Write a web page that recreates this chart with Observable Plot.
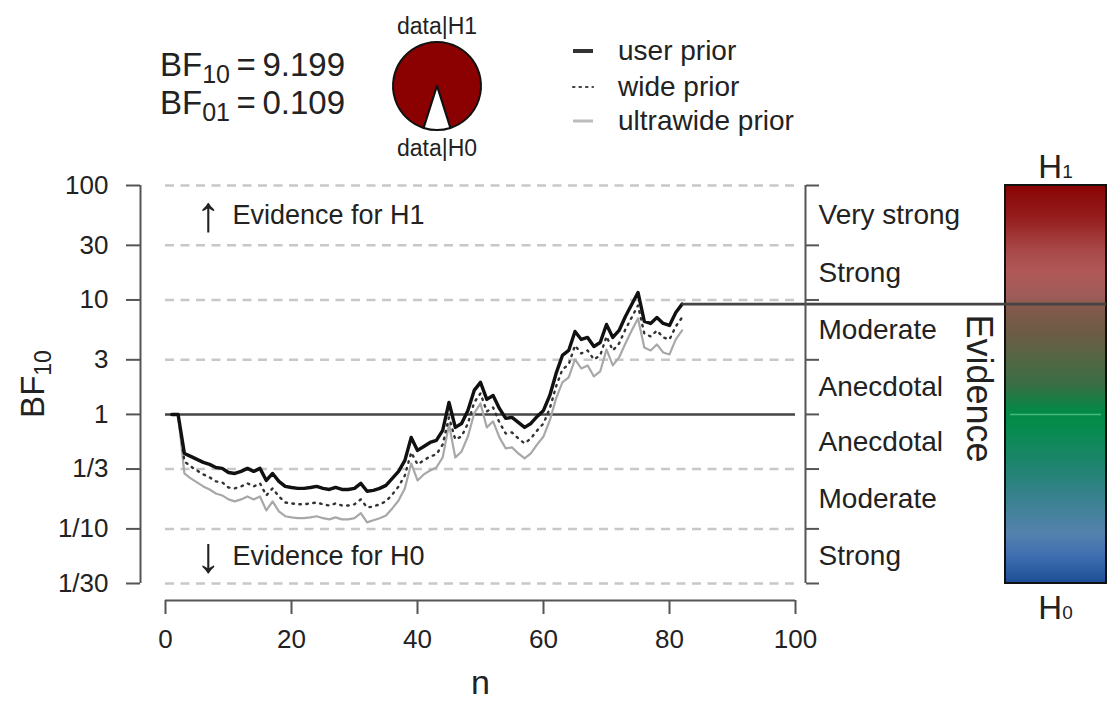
<!DOCTYPE html>
<html>
<head>
<meta charset="utf-8">
<script src="https://cdn.jsdelivr.net/npm/d3@7"></script>
<script src="https://cdn.jsdelivr.net/npm/@observablehq/plot@0.6"></script>
<style>
html,body{margin:0;padding:0;background:#fff;}
#chart{position:relative;width:1112px;height:713px;overflow:hidden;background:#fff;}
#chart > svg{position:absolute;left:0;top:0;}
</style>
</head>
<body>
<div id="chart"></div>
<script>
// ---------------- data ----------------
const nValues = [1,2,3,4,5,6,7,8,9,10,11,12,13,14,15,16,17,18,19,20,21,22,23,24,25,26,27,28,29,30,31,32,33,34,35,36,37,38,39,40,41,42,43,44,45,46,47,48,49,50,51,52,53,54,55,56,57,58,59,60,61,62,63,64,65,66,67,68,69,70,71,72,73,74,75,76,77,78,79,80,81,82];
const userPrior = [1,1,0.456,0.430,0.405,0.381,0.366,0.344,0.338,0.311,
  0.305,0.318,0.338,0.318,0.338,0.265,0.305,0.260,0.235,0.230,
  0.226,0.226,0.230,0.235,0.226,0.221,0.230,0.221,0.221,0.226,
  0.250,0.213,0.217,0.226,0.240,0.276,0.318,0.397,0.630,0.485,
  0.525,0.569,0.593,0.725,1.273,0.770,0.834,1.084,1.621,1.904,
  1.352,1.465,1.128,0.923,0.942,0.851,0.770,0.834,0.961,1.084,
  1.465,2.281,3.275,3.622,5.308,4.519,4.705,3.926,4.254,6.109,
  4.705,5.415,7.177,9.136,11.63,6.490,6.233,7.034,6.233,5.988,
  7.777,9.199];
const widePrior = [1,1,0.389,0.351,0.324,0.299,0.282,0.260,0.255,0.230,
  0.226,0.235,0.250,0.235,0.250,0.196,0.226,0.192,0.170,0.167,
  0.164,0.164,0.167,0.170,0.164,0.160,0.167,0.160,0.160,0.164,
  0.181,0.154,0.157,0.164,0.174,0.200,0.235,0.293,0.466,0.366,
  0.397,0.430,0.447,0.547,0.942,0.605,0.642,0.834,1.273,1.525,
  1.062,1.151,0.851,0.682,0.696,0.617,0.558,0.617,0.725,0.834,
  1.128,1.756,2.472,2.734,4.005,3.410,3.622,3.022,3.275,4.800,
  3.622,4.170,5.527,7.034,8.954,5.098,4.800,5.415,4.705,4.519,
  5.870,7.034];
const ultrawidePrior = [1,1,0.305,0.276,0.255,0.235,0.221,0.204,0.196,0.181,
  0.174,0.181,0.192,0.181,0.192,0.145,0.174,0.142,0.129,0.126,
  0.124,0.124,0.126,0.129,0.124,0.121,0.126,0.121,0.121,0.124,
  0.137,0.114,0.119,0.124,0.131,0.151,0.177,0.226,0.373,0.265,
  0.299,0.324,0.344,0.421,0.818,0.421,0.475,0.642,1.020,1.248,
  0.770,0.869,0.630,0.505,0.515,0.456,0.413,0.456,0.547,0.642,
  0.886,1.380,1.904,2.104,3.022,2.522,2.680,2.147,2.374,3.696,
  2.680,3.147,4.170,5.415,6.893,3.847,3.622,4.087,3.479,3.342,
  4.519,5.415];
const seriesNames = ["user prior", "wide prior", "ultrawide prior"];
const bf10 = 9.199;
const bf01 = 0.109;
const yTicks = [100, 30, 10, 3, 1, 1/3, 1/10, 1/30];
const yTickLabels = ["100", "30", "10", "3", "1", "1/3", "1/10", "1/30"];
const gridTicks = [100, 30, 10, 3, 1/3, 1/10, 1/30];
const xTicks = [0, 20, 40, 60, 80, 100];
const evidenceLabels = ["Very strong", "Strong", "Moderate", "Anecdotal", "Anecdotal", "Moderate", "Strong"];
const evidenceLower = [30, 10, 3, 1, 1/3, 1/10, 1/30];
const evidenceUpper = [100, 30, 10, 3, 1, 1/3, 1/10];
const gradientStops = [
  [0.000, "#880404"], [0.080, "#951c1c"], [0.163, "#a94848"], [0.220, "#b05858"],
  [0.280, "#9e5c58"], [0.314, "#80594a"], [0.380, "#6a5c45"], [0.430, "#566644"],
  [0.500, "#3a6e45"], [0.573, "#008b45"], [0.623, "#0a8a52"], [0.709, "#1f8470"],
  [0.790, "#3a8190"], [0.874, "#5582ad"], [0.935, "#3d6db0"], [1.000, "#1c4d94"]
];

// ---------------- layout ----------------
const W = 1112, H = 713;
const M = {top: 185, right: 317, bottom: 130, left: 165};
const font = '"Liberation Sans", Arial, Helvetica, sans-serif';
const ink = "#222";
const axisGray = "#555";
const cbLeft = 1005, cbWidth = 101;
const pxToN = px => (px - M.left) / (W - M.left - M.right) * 100;

const rows = [];
[userPrior, widePrior, ultrawidePrior].forEach((vals, k) =>
  vals.forEach((v, i) => rows.push({n: nValues[i], bf: v, prior: seriesNames[k]})));
const bySeries = name => rows.filter(d => d.prior === name);
const bands = evidenceLabels.map((label, i) => ({label, mid: Math.sqrt(evidenceLower[i] * evidenceUpper[i])}));
const yLabelRows = yTicks.map((v, i) => ({v, label: yTickLabels[i]}));
const lastN = nValues[nValues.length - 1];

const plot = Plot.plot({
  width: W, height: H,
  marginTop: M.top, marginRight: M.right, marginBottom: M.bottom, marginLeft: M.left,
  style: {fontFamily: font, fontSize: "26px", color: ink, background: "transparent", overflow: "visible"},
  x: {domain: [0, 100], label: null},
  y: {type: "log", domain: [1/30, 100], label: null},
  marks: [
    Plot.ruleY(gridTicks, {x1: 0, x2: 100, stroke: "#c8c8c8", strokeWidth: 2.5, strokeDasharray: "9,6.5"}),
    Plot.ruleY([1], {x1: 0, x2: 100, stroke: "#444", strokeWidth: 2.6}),
    Plot.line(bySeries("ultrawide prior"), {x: "n", y: "bf", stroke: "#a8a8a8", strokeWidth: 2.2}),
    Plot.line(bySeries("wide prior"), {x: "n", y: "bf", stroke: "#333", strokeWidth: 2.4, strokeDasharray: "1.5,5.5", strokeLinecap: "round"}),
    Plot.line(bySeries("user prior"), {x: "n", y: "bf", stroke: "#111", strokeWidth: 3.4}),
    // faint line at BF = 1 across the evidence colour bar
    Plot.ruleY([1], {x1: pxToN(cbLeft + 5), x2: pxToN(cbLeft + cbWidth - 5), stroke: "#5cc08a", strokeWidth: 1.5, strokeOpacity: 0.8}),
    // final BF line extending into the colour bar
    Plot.ruleY([bf10], {x1: lastN, x2: pxToN(cbLeft + cbWidth), stroke: "#444", strokeWidth: 2.6}),
    // left axis
    Plot.ruleX([0], {y1: 1/30, y2: 100, dx: -25, stroke: axisGray, strokeWidth: 2}),
    Plot.axisY({ticks: yTicks, tickFormat: () => "", dx: -25, tickSize: 14, stroke: axisGray, strokeWidth: 2, label: null}),
    Plot.text(yLabelRows, {x: 0, y: "v", text: "label", dx: -57, textAnchor: "end", fontSize: 26, fill: ink}),
    // bottom axis
    Plot.ruleY([1/30], {x1: 0, x2: 100, dy: 17, stroke: axisGray, strokeWidth: 2}),
    Plot.axisX({ticks: xTicks, dy: 17, tickSize: 14, tickPadding: 15, stroke: axisGray, strokeWidth: 2, label: null}),
    // right evidence axis
    Plot.ruleX([100], {y1: 1/30, y2: 100, dx: 10, stroke: axisGray, strokeWidth: 2}),
    Plot.axisY({anchor: "right", ticks: yTicks, tickFormat: () => "", dx: 10, tickSize: 13, stroke: axisGray, strokeWidth: 2, label: null}),
    Plot.text(bands, {x: 100, y: "mid", text: "label", dx: 23, textAnchor: "start", fontSize: 28, fill: ink}),
    // evidence direction annotations
    Plot.text(["↑"], {x: 0, y: bands[0].mid, text: d => d, dx: 43, fontSize: 50, fill: ink}),
    Plot.text(["Evidence for H1"], {x: 0, y: bands[0].mid, text: d => d, dx: 67, textAnchor: "start", fontSize: 27, fill: ink}),
    Plot.text(["↓"], {x: 0, y: bands[6].mid, text: d => d, dx: 43, fontSize: 50, fill: ink}),
    Plot.text(["Evidence for H0"], {x: 0, y: bands[6].mid, text: d => d, dx: 67, textAnchor: "start", fontSize: 27, fill: ink}),
    // titles
    Plot.text(["n"], {frameAnchor: "bottom", text: d => d, dy: 110, fontSize: 34, fill: ink}),
    Plot.text(["Evidence"], {frameAnchor: "right", text: d => d, dx: 183, dy: 4, rotate: 90, textAnchor: "middle", fontSize: 36, fill: ink})
  ]
});

// ---------------- overlay: header, pie, legend, colour bar ----------------
const yRange = plot.scale("y").range;
const yTop = Math.min(...yRange), yBot = Math.max(...yRange);
const ov = d3.create("svg").attr("width", W).attr("height", H).attr("viewBox", `0 0 ${W} ${H}`)
  .style("font-family", font).style("pointer-events", "none");

const grad = ov.append("defs").append("linearGradient").attr("id", "evgrad")
  .attr("x1", 0).attr("y1", 0).attr("x2", 0).attr("y2", 1);
gradientStops.forEach(([o, c]) => grad.append("stop").attr("offset", o).attr("stop-color", c));
ov.append("rect").attr("x", cbLeft).attr("y", yTop).attr("width", cbWidth).attr("height", yBot - yTop)
  .attr("fill", "url(#evgrad)").attr("stroke", "#111").attr("stroke-width", 2);

// H1 / H0 labels
function hLabel(y, sub) {
  const t = ov.append("text").attr("x", cbLeft + cbWidth / 2).attr("y", y).attr("text-anchor", "middle")
    .attr("fill", ink).attr("font-size", 33);
  t.append("tspan").text("H");
  t.append("tspan").attr("font-size", 19).text(sub);
}
hLabel(yTop - 7, "1");
hLabel(yBot + 36, "0");

// y-axis title
const yt = ov.append("text").attr("transform", `translate(44,${(yTop + yBot) / 2}) rotate(-90)`)
  .attr("text-anchor", "middle").attr("fill", ink).attr("font-size", 33);
yt.append("tspan").text("BF");
yt.append("tspan").attr("font-size", 23).attr("dy", 7).text("10");

// BF texts
function bfText(y, sub, value) {
  const t = ov.append("text").attr("x", 160).attr("y", y).attr("fill", ink).attr("font-size", 33);
  t.append("tspan").text("BF");
  t.append("tspan").attr("font-size", 25).attr("dy", 7).text(sub);
  t.append("tspan").attr("dy", -7).text("\u2009=\u2009" + value.toFixed(3));
}
bfText(76, "10", bf10);
bfText(114, "01", bf01);

// pie
const pH0 = 1 / (1 + bf10);
const a0 = 2 * Math.PI * pH0;
const pie = d3.pie().sort(null).startAngle(Math.PI + a0 / 2).endAngle(Math.PI + a0 / 2 + 2 * Math.PI);
const arc = d3.arc().innerRadius(0).outerRadius(44);
const pg = ov.append("g").attr("transform", "translate(437,86)");
pg.selectAll("path").data(pie([1 - pH0, pH0])).join("path")
  .attr("d", arc).attr("fill", (d, i) => i === 0 ? "#8b0000" : "#ffffff")
  .attr("stroke", "#111").attr("stroke-width", 2).attr("stroke-linejoin", "round");
ov.append("text").attr("x", 437).attr("y", 34).attr("text-anchor", "middle").attr("font-size", 23).attr("fill", ink).text("data|H1");
ov.append("text").attr("x", 437).attr("y", 156).attr("text-anchor", "middle").attr("font-size", 23).attr("fill", ink).text("data|H0");

// legend
const legendStyles = [
  {stroke: "#333", width: 4, dash: null},
  {stroke: "#444", width: 2.2, dash: "1.5,5"},
  {stroke: "#bdbdbd", width: 3, dash: null}
];
const legendY = [51, 87, 121];
seriesNames.forEach((name, i) => {
  const s = legendStyles[i];
  ov.append("line").attr("x1", 573).attr("x2", 593).attr("y1", legendY[i]).attr("y2", legendY[i])
    .attr("stroke", s.stroke).attr("stroke-width", s.width).attr("stroke-dasharray", s.dash)
    .attr("stroke-linecap", s.dash ? "round" : "butt");
  ov.append("text").attr("x", 618).attr("y", legendY[i] + 9).attr("font-size", 28).attr("fill", ink).text(name);
});

const chart = document.getElementById("chart");
chart.appendChild(ov.node());
chart.appendChild(plot);
</script>
</body>
</html>
